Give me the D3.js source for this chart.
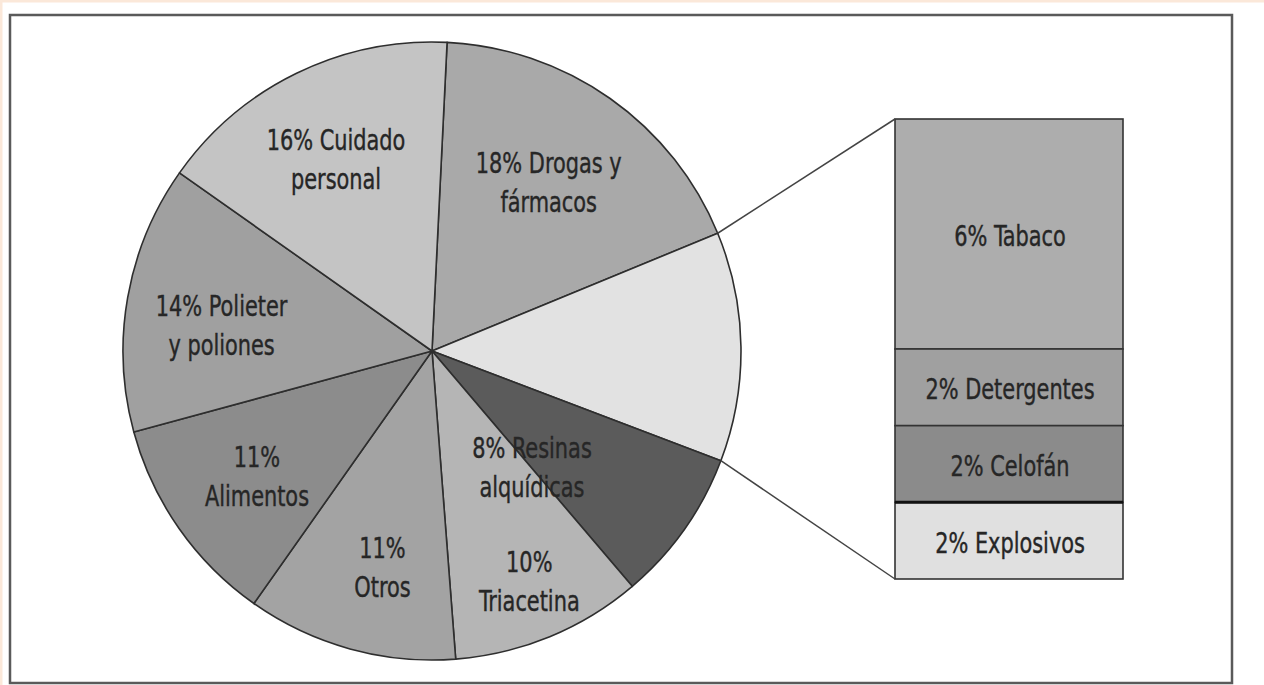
<!DOCTYPE html>
<html>
<head>
<meta charset="utf-8">
<script src="https://cdn.jsdelivr.net/npm/d3@7/dist/d3.min.js"></script>
<style>
  html, body { margin: 0; padding: 0; background: #ffffff; }
  svg { display: block; }
  .lbl { font-family: "DejaVu Sans Condensed", "DejaVu Sans", sans-serif; font-size: 29px; fill: #262626;
         stroke: #262626; stroke-width: 0.4px; }
</style>
</head>
<body>
<script>
// Uses of the product, in percent (clockwise from the top of the pie)
const pieCategories = ["Drogas y fármacos", "Otros usos", "Resinas alquídicas", "Triacetina",
                       "Otros", "Alimentos", "Polieter y poliones", "Cuidado personal"];
const pieValues = [18, 12, 8, 10, 11, 11, 14, 16];
const pieLabelLines = [["18% Drogas y", "fármacos"], [], ["8% Resinas", "alquídicas"], ["10%", "Triacetina"],
                       ["11%", "Otros"], ["11%", "Alimentos"], ["14% Polieter", "y poliones"], ["16% Cuidado", "personal"]];
const pieColors = ["#a9a9a9", "#e2e2e2", "#5b5b5b", "#b5b5b5", "#a3a3a3", "#8c8c8c", "#a0a0a0", "#c4c4c4"];

// Breakdown of the "Otros usos" slice
const barCategories = ["Tabaco", "Detergentes", "Celofán", "Explosivos"];
const barValues = [6, 2, 2, 2];
const barColors = ["#adadad", "#a0a0a0", "#8b8b8b", "#e0e0e0"];

const W = 1264, H = 685;
const textSqueeze = 0.8;   // condensed look for all labels
const svg = d3.select("body").append("svg").attr("width", W).attr("height", H);

// page edge tint and outer frame
svg.append("rect").attr("x", 0).attr("y", 0).attr("width", W).attr("height", 2.5).attr("fill", "#fbe8d9");
svg.append("rect").attr("x", 0).attr("y", 0).attr("width", 2.5).attr("height", H).attr("fill", "#fbe8d9");
svg.append("rect").attr("x", 10).attr("y", 15).attr("width", 1222).attr("height", 668)
  .attr("fill", "#ffffff").attr("stroke", "#5a5a5a").attr("stroke-width", 2.5);

function label(parent, x, y, lines, lead) {
  const t = parent.append("text").attr("class", "lbl").attr("text-anchor", "middle")
    .attr("transform", `translate(${x},${y}) scale(${textSqueeze},1)`);
  lines.forEach((ln, k) => t.append("tspan").attr("x", 0).attr("y", k * lead).text(ln));
  return t;
}

// ---- pie ----
const cx = 432, cy = 351, R = 309;
const deg = Math.PI / 180;
const pie = d3.pie().sort(null).value(d => d).startAngle(2.8 * deg).endAngle(362.8 * deg);
const arcs = pie(pieValues);
const arc = d3.arc().innerRadius(0).outerRadius(R);

const gPie = svg.append("g").attr("transform", `translate(${cx},${cy})`);
gPie.selectAll("path").data(arcs).join("path")
  .attr("d", arc)
  .attr("fill", (d, i) => pieColors[i])
  .attr("stroke", "#2e2e2e").attr("stroke-width", 1.6).attr("stroke-linejoin", "round");

// label placement per slice: radius and angular nudge
const labelPlace = [
  { r: 205, da: -0.5 }, { r: 0, da: 0 }, { r: 153, da: 14 }, { r: 250, da: -0.5 },
  { r: 222, da: -2.5 }, { r: 215, da: -0.5 }, { r: 212, da: -3 }, { r: 215, da: -0.5 }
];
arcs.forEach((a, i) => {
  const lines = pieLabelLines[i];
  if (!lines.length) return;
  const ang = (a.startAngle + a.endAngle) / 2 + labelPlace[i].da * deg;
  const x = Math.sin(ang) * labelPlace[i].r, y = -Math.cos(ang) * labelPlace[i].r;
  label(gPie, x, y - 9, lines, 39);
});

// ---- breakdown bar ----
const barX = 895, barW = 228;
const yBar = d3.scaleLinear().domain([0, d3.sum(barValues)]).range([119, 579]);
const stacked = [];
let acc = 0;
barValues.forEach((v, i) => { stacked.push({ v, i, y0: acc, y1: acc + v }); acc += v; });

const gBar = svg.append("g");
gBar.selectAll("rect").data(stacked).join("rect")
  .attr("x", barX).attr("width", barW)
  .attr("y", d => yBar(d.y0)).attr("height", d => yBar(d.y1) - yBar(d.y0))
  .attr("fill", d => barColors[d.i])
  .attr("stroke", "#333333").attr("stroke-width", 1.6);
// heavier rule between the last two segments
gBar.append("line")
  .attr("x1", barX).attr("x2", barX + barW)
  .attr("y1", yBar(stacked[3].y0)).attr("y2", yBar(stacked[3].y0))
  .attr("stroke", "#111111").attr("stroke-width", 3);
stacked.forEach(d => {
  label(gBar, barX + barW / 2 + 1, (yBar(d.y0) + yBar(d.y1)) / 2 + 12, [`${d.v}% ${barCategories[d.i]}`], 0);
});

// connector lines from the exploded slice to the bar
const other = arcs[1];
const p0 = [cx + Math.sin(other.startAngle) * R, cy - Math.cos(other.startAngle) * R];
const p1 = [cx + Math.sin(other.endAngle) * R, cy - Math.cos(other.endAngle) * R];
svg.append("line").attr("x1", p0[0]).attr("y1", p0[1]).attr("x2", barX).attr("y2", yBar(0))
  .attr("stroke", "#444").attr("stroke-width", 1.5);
svg.append("line").attr("x1", p1[0]).attr("y1", p1[1]).attr("x2", barX).attr("y2", yBar(d3.sum(barValues)))
  .attr("stroke", "#444").attr("stroke-width", 1.5);
</script>
</body>
</html>
